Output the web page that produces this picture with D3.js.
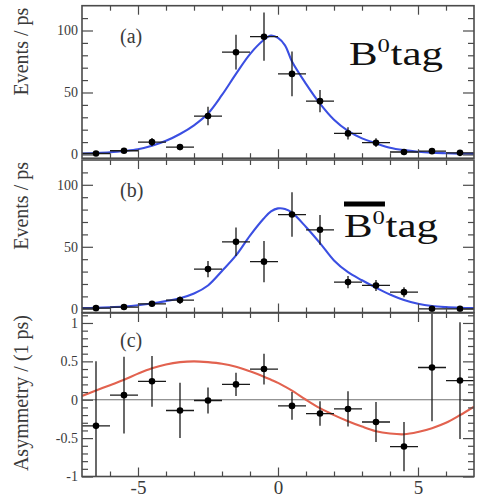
<!DOCTYPE html>
<html>
<head>
<meta charset="utf-8">
<script src="https://cdn.jsdelivr.net/npm/d3@7"></script>
<style>
  html, body { margin: 0; padding: 0; background: #fff; }
  svg { display: block; }
</style>
</head>
<body>
<svg id="chart" width="477" height="498"></svg>
<script>
// Proper-time difference bins (ps): one entry per bin centre, 1 ps wide
const binCentres = [-6.5, -5.5, -4.5, -3.5, -2.5, -1.5, -0.5, 0.5, 1.5, 2.5, 3.5, 4.5, 5.5, 6.5];
const binHalfWidth = 0.5;

// (a) B0-tagged candidates, events / ps
const b0TagEvents = [0.8, 3, 10, 6, 31, 82.5, 95, 65, 43, 17, 9.5, 2, 2.7, 1.3];
const b0TagErrors = [1, 1.7, 3.2, 2.5, 7.5, 14, 19.5, 18, 9, 5, 3.5, 1.5, 1.6, 1.2];

// (b) anti-B0-tagged candidates, events / ps
const b0barTagEvents = [0.5, 1.4, 4, 7, 32, 54, 38, 76, 63.7, 21.5, 18.8, 13.4, 0, 0];
const b0barTagErrors = [0.8, 1.3, 2.2, 3, 6.5, 11.5, 16.7, 18, 12, 5, 4.5, 4, 1, 1];

// (c) raw asymmetry per 1 ps bin
const asymmetry = [-0.34, 0.06, 0.24, -0.14, -0.01, 0.2, 0.4, -0.08, -0.18, -0.12, -0.29, -0.61, 0.42, 0.25];
const asymmetryErrors = [0.84, 0.5, 0.33, 0.36, 0.17, 0.15, 0.2, 0.18, 0.16, 0.23, 0.26, 0.32, 0.7, 0.76];

// Fit projections, sampled in proper time
const fitTimes = [-7, -6.5, -6, -5.5, -5, -4.5, -4, -3.5, -3, -2.5, -2, -1.5, -1, -0.5, -0.25, 0,
                  0.25, 0.5, 1, 1.5, 2, 2.5, 3, 3.5, 4, 4.5, 5, 5.5, 6, 6.5, 7];
const b0TagFit = [0.8, 1.2, 1.8, 2.8, 4.2, 7, 11, 16.5, 23.5, 33, 48, 65, 81, 92.5, 96, 94,
                  88, 75, 57, 41, 28, 19, 13, 9, 5.5, 3.5, 2.2, 1.4, 1, 0.7, 0.5];
const b0barTagFit = [0.5, 0.8, 1.2, 1.8, 2.8, 4.2, 6.2, 8.5, 12.3, 18.8, 30.5, 43, 59, 73, 78.5, 81,
                     80.5, 77.5, 66, 53, 39, 29.5, 23, 17, 11.5, 7, 4, 2.2, 1.3, 0.8, 0.5];
const asymmetryFit = [0.05, 0.12, 0.19, 0.26, 0.34, 0.41, 0.46, 0.49, 0.5, 0.49, 0.47, 0.43, 0.37, 0.3, 0.26, 0.22,
                      0.17, 0.12, 0.0, -0.11, -0.2, -0.28, -0.35, -0.41, -0.44, -0.45, -0.42, -0.37, -0.3, -0.2, -0.09];

// Axis tick labels
const xTickLabels = [-5, 0, 5];
const eventsTickLabels = [0, 50, 100];
const asymmetryTickLabels = [-1, -0.5, 0, 0.5, 1];

const panelLabels = ["(a)", "(b)", "(c)"];
const eventsTitle = "Events / ps";
const asymmetryTitle = "Asymmetry / (1 ps)";

// ---------------------------------------------------------------------------
const svg = d3.select("#chart");
const serif = "'Liberation Serif', 'Times New Roman', serif";
const frameColor = "#4a4a4a";
const textColor = "#3a3a3a";

const x = d3.scaleLinear().domain([-7, 7]).range([82, 474]);
const xMinor = d3.range(-6, 7).filter(v => !xTickLabels.includes(v));

const panels = [
  { label: panelLabels[0], y: d3.scaleLinear().domain([-3, 120]).range([158.2, 5.7]),
    major: eventsTickLabels, minor: d3.range(10, 120, 10).filter(v => v % 50 !== 0),
    values: b0TagEvents, errors: b0TagErrors, fit: b0TagFit, fitColor: "#3b4fe2",
    title: eventsTitle, labelY: 43 },
  { label: panelLabels[1], y: d3.scaleLinear().domain([-3, 120]).range([312.5, 160]),
    major: eventsTickLabels, minor: d3.range(10, 120, 10).filter(v => v % 50 !== 0),
    values: b0barTagEvents, errors: b0barTagErrors, fit: b0barTagFit, fitColor: "#3b4fe2",
    title: eventsTitle, labelY: 197 },
  { label: panelLabels[2], y: d3.scaleLinear().domain([-1, 1.13]).range([476.5, 313]),
    major: asymmetryTickLabels, minor: d3.range(-9, 12).map(v => v / 10).filter(v => Math.abs(v * 2 - Math.round(v * 2)) > 1e-6),
    values: asymmetry, errors: asymmetryErrors, fit: asymmetryFit, fitColor: "#e2624f",
    title: asymmetryTitle, labelY: 347, zeroLine: true, xLabels: true }
];

panels.forEach((p, i) => {
  const [yBottom, yTop] = p.y.range();
  const g = svg.append("g");
  const clipId = "clip-" + i;
  svg.append("clipPath").attr("id", clipId)
    .append("rect").attr("x", x(-7)).attr("y", yTop).attr("width", x(7) - x(-7)).attr("height", yBottom - yTop);

  // reference line at zero asymmetry
  if (p.zeroLine) {
    g.append("line")
      .attr("x1", x(-7)).attr("x2", x(7))
      .attr("y1", p.y(0)).attr("y2", p.y(0))
      .attr("stroke", "#6f6f6f").attr("stroke-width", 1.2);
  }

  const plot = g.append("g").attr("clip-path", `url(#${clipId})`);

  // fit projection
  const line = d3.line()
    .x((d, k) => x(fitTimes[k]))
    .y(d => p.y(d))
    .curve(d3.curveCatmullRom.alpha(0.5));
  plot.append("path")
    .datum(p.fit)
    .attr("d", line)
    .attr("fill", "none")
    .attr("stroke", p.fitColor)
    .attr("stroke-width", 2.1);

  // data points with error bars
  const pts = plot.selectAll("g.pt").data(binCentres.map((t, k) => ({ t, v: p.values[k], e: p.errors[k] })))
    .join("g").attr("class", "pt");
  pts.append("line")
    .attr("x1", d => x(d.t - binHalfWidth)).attr("x2", d => x(d.t + binHalfWidth))
    .attr("y1", d => p.y(d.v)).attr("y2", d => p.y(d.v))
    .attr("stroke", "#1a1a1a").attr("stroke-width", 1.3);
  pts.append("line")
    .attr("x1", d => x(d.t)).attr("x2", d => x(d.t))
    .attr("y1", d => p.y(d.v - d.e)).attr("y2", d => p.y(d.v + d.e))
    .attr("stroke", "#1a1a1a").attr("stroke-width", 1.3);
  pts.append("circle")
    .attr("cx", d => x(d.t)).attr("cy", d => p.y(d.v))
    .attr("r", 3.3).attr("fill", "#000");

  // axes: ticks drawn inward on all four sides
  const styleAxis = sel => {
    sel.select(".domain").remove();
    sel.selectAll(".tick line").attr("stroke", frameColor).attr("stroke-width", 1.2);
    sel.selectAll(".tick text").attr("fill", textColor).style("font-family", serif);
  };
  const fmt = d => String(d);

  g.append("g").attr("transform", `translate(${x(-7)},0)`)
    .call(d3.axisLeft(p.y).tickValues(p.major).tickSize(-11).tickPadding(4).tickFormat(fmt))
    .call(styleAxis)
    .selectAll(".tick text").style("font-size", "14px");
  g.append("g").attr("transform", `translate(${x(-7)},0)`)
    .call(d3.axisLeft(p.y).tickValues(p.minor).tickSize(-6).tickFormat(""))
    .call(styleAxis);
  g.append("g").attr("transform", `translate(${x(7)},0)`)
    .call(d3.axisRight(p.y).tickValues(p.major).tickSize(-11).tickFormat(""))
    .call(styleAxis);
  g.append("g").attr("transform", `translate(${x(7)},0)`)
    .call(d3.axisRight(p.y).tickValues(p.minor).tickSize(-6).tickFormat(""))
    .call(styleAxis);

  g.append("g").attr("transform", `translate(0,${yBottom})`)
    .call(d3.axisBottom(x).tickValues(xTickLabels).tickSize(-9).tickPadding(4).tickFormat(p.xLabels ? fmt : ""))
    .call(styleAxis)
    .selectAll(".tick text").style("font-size", "19px");
  g.append("g").attr("transform", `translate(0,${yBottom})`)
    .call(d3.axisBottom(x).tickValues(xMinor).tickSize(-5).tickFormat(""))
    .call(styleAxis);
  g.append("g").attr("transform", `translate(0,${yTop})`)
    .call(d3.axisTop(x).tickValues(xTickLabels).tickSize(-9).tickFormat(""))
    .call(styleAxis);
  g.append("g").attr("transform", `translate(0,${yTop})`)
    .call(d3.axisTop(x).tickValues(xMinor).tickSize(-5).tickFormat(""))
    .call(styleAxis);

  // frame
  g.append("rect")
    .attr("x", x(-7)).attr("y", yTop)
    .attr("width", x(7) - x(-7)).attr("height", yBottom - yTop)
    .attr("fill", "none").attr("stroke", frameColor).attr("stroke-width", 1.6);

  // panel letter
  g.append("text")
    .attr("x", 120).attr("y", p.labelY)
    .attr("fill", textColor)
    .style("font-family", serif).style("font-size", "20px")
    .text(p.label);

  // vertical axis title, right-aligned to the top of the frame
  g.append("text")
    .attr("transform", `translate(28,${yTop + 2}) rotate(-90)`)
    .attr("text-anchor", "end")
    .attr("fill", textColor)
    .style("font-family", serif).style("font-size", "20px")
    .text(p.title);
});

// Flavour-tag annotations (wide roman face, stretched horizontally)
function flavourTag(xPos, yPos, withBar) {
  const g = svg.append("g").attr("transform", `translate(${xPos},${yPos}) scale(1.3,1)`);
  const head = g.append("text")
    .attr("x", 0).attr("y", 0)
    .attr("fill", "#111")
    .style("font-family", serif).style("font-size", "33px");
  head.append("tspan").text("B");
  head.append("tspan").attr("dy", -13).style("font-size", "19px").text("0");
  const bb = head.node().getBBox();
  g.append("text")
    .attr("x", bb.x + bb.width + 0.5).attr("y", 0)
    .attr("fill", "#111")
    .style("font-family", serif).style("font-size", "33px")
    .text("tag");
  if (withBar) {
    g.append("line")
      .attr("x1", bb.x).attr("x2", bb.x + bb.width)
      .attr("y1", -33).attr("y2", -33)
      .attr("stroke", "#000").attr("stroke-width", 5);
  }
}
flavourTag(349, 65, false);
flavourTag(344, 237, true);
</script>
</body>
</html>
